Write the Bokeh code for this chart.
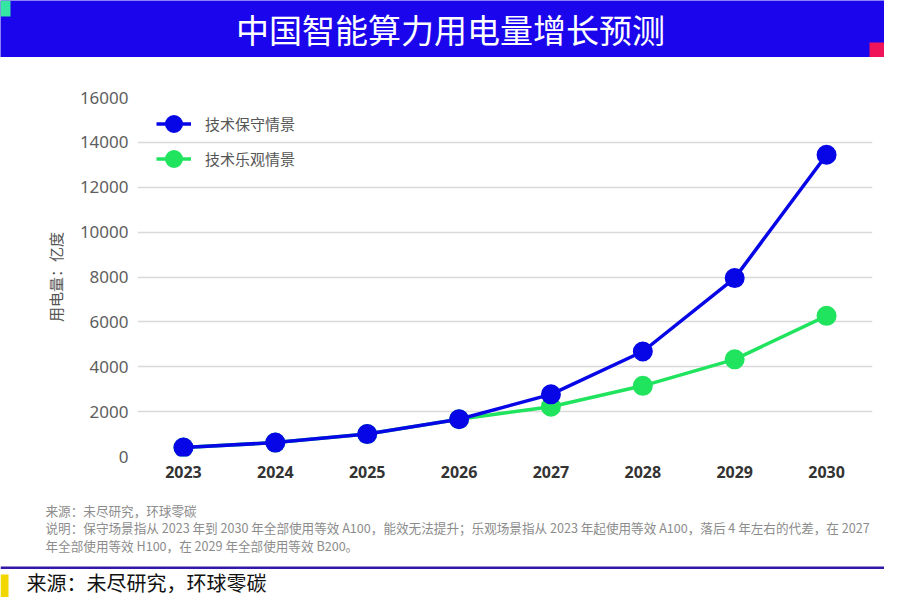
from bokeh.plotting import figure
from bokeh.layouts import column
from bokeh.models import Range1d, FixedTicker, Legend, LegendItem, BoxAnnotation, Label
from bokeh.embed import file_html
from bokeh.resources import INLINE

# ---- data ----
years = [2023, 2024, 2025, 2026, 2027, 2028, 2029, 2030]
conservative = [400, 620, 1000, 1660, 2770, 4680, 7950, 13450]
optimistic = [400, 620, 1000, 1660, 2220, 3150, 4330, 6270]
y_ticks = [0, 2000, 4000, 6000, 8000, 10000, 12000, 14000, 16000]
series_names = ["技术保守情景", "技术乐观情景"]
title_text = "中国智能算力用电量增长预测"
y_label = "用电量：亿度"
note_lines = [
    "来源：未尽研究，环球零碳",
    "说明：保守场景指从 2023 年到 2030 年全部使用等效 A100，能效无法提升；乐观场景指从 2023 年起使用等效 A100，落后 4 年左右的代差，在 2027",
    "年全部使用等效 H100，在 2029 年全部使用等效 B200。",
]
footer_text = "来源：未尽研究，环球零碳"

BLUE = "#0606e6"
GREEN = "#20e35e"
BAND = "#1a05ec"
CJK = "Noto Sans CJK SC"
W = 884


def no_align(f):
    try:
        f.frame_align = False
    except Exception:
        pass


def blank_fig(h):
    f = figure(width=W, height=h, output_backend="svg", toolbar_location=None,
               x_range=Range1d(0, W), y_range=Range1d(h, 0),
               x_axis_type=None, y_axis_type=None, min_border=0, title=None)
    f.xgrid.visible = False
    f.ygrid.visible = False
    f.outline_line_color = None
    no_align(f)
    return f


def rect(f, l, r, t, b, color):
    f.add_layout(BoxAnnotation(left=l, right=r, top=t, bottom=b, fill_color=color,
                               fill_alpha=1, line_alpha=0, level="overlay"))


# ---- header ----
HEAD_H = 57
head = blank_fig(HEAD_H)
head.background_fill_color = BAND
head.border_fill_color = BAND
rect(head, 0, 10, 0, 16, "#35e6a2")
rect(head, W - 15, W, 42, 57, "#f0145a")
head.add_layout(Label(x=450, y=28, text=title_text, text_align="center",
                      text_baseline="middle", text_color="white",
                      text_font=CJK, text_font_size="33px"))

# ---- main chart ----
MAIN_H = 433
p = figure(width=W, height=MAIN_H, output_backend="svg", toolbar_location=None,
           x_range=Range1d(2022.5, 2030.5), y_range=Range1d(0, 16000),
           min_border_left=137, min_border_right=W - 872, min_border_top=40,
           min_border_bottom=34, title=None)
no_align(p)
p.outline_line_color = None
p.background_fill_color = "white"
p.border_fill_color = "white"

p.xgrid.visible = False
p.ygrid.grid_line_color = "#d9d9d9"
p.ygrid.grid_line_width = 1.5

p.yaxis.ticker = FixedTicker(ticks=y_ticks)
p.xaxis.ticker = FixedTicker(ticks=years)
for ax in (p.xaxis[0], p.yaxis[0]):
    ax.axis_line_color = None
    ax.major_tick_line_color = None
    ax.minor_tick_line_color = None
    ax.major_tick_out = 0
    ax.major_tick_in = 0
    ax.minor_tick_out = 0
p.yaxis.major_label_standoff = 9
p.yaxis.major_label_text_font = "Noto Sans"
p.yaxis.major_label_text_font_size = "17px"
p.yaxis.major_label_text_color = "#5e5e5e"
p.yaxis.axis_label = y_label
p.yaxis.axis_label_text_font = CJK
p.yaxis.axis_label_text_font_size = "15px"
p.yaxis.axis_label_text_font_style = "normal"
p.yaxis.axis_label_text_color = "#555555"
p.yaxis.axis_label_standoff = 11

p.xaxis.major_label_standoff = 9
p.xaxis.major_label_text_font = "Noto Sans"
p.xaxis.major_label_text_font_size = "16px"
p.xaxis.major_label_text_font_style = "bold"
p.xaxis.major_label_text_color = "#333333"

g_line = p.line(years, optimistic, line_color=GREEN, line_width=3.5)
g_pts = p.scatter(years, optimistic, size=16, fill_color=GREEN, line_color=GREEN, line_width=4)
b_line = p.line(years, conservative, line_color=BLUE, line_width=3.5)
b_pts = p.scatter(years, conservative, size=16, fill_color=BLUE, line_color=BLUE, line_width=4)

legend = Legend(items=[LegendItem(label=series_names[0], renderers=[b_line, b_pts]),
                       LegendItem(label=series_names[1], renderers=[g_line, g_pts])],
                location=(19, 280), glyph_width=35, glyph_height=35, spacing=0,
                label_standoff=14, label_height=35, padding=0, margin=0,
                border_line_alpha=0, background_fill_alpha=0,
                label_text_font=CJK, label_text_font_size="15px",
                label_text_color="#555555", label_text_baseline="middle")
p.add_layout(legend)

# ---- footer (notes + source) ----
FOOT_H = 597 - HEAD_H - MAIN_H
foot = blank_fig(FOOT_H)
foot.background_fill_color = "white"
foot.border_fill_color = "white"
for t, yy in zip(note_lines, [20, 37, 55]):
    foot.add_layout(Label(x=45, y=yy, text=t, text_align="left", text_baseline="middle",
                          text_color="#8c8c8c", text_font=CJK, text_font_size="12.6px"))
rect(foot, 0, W, 76, 78.5, "#3318a8")
rect(foot, 0, 8, 84, FOOT_H, "#f2d600")
foot.add_layout(Label(x=26, y=92, text=footer_text, text_align="left",
                      text_baseline="middle", text_color="#111111",
                      text_font=CJK, text_font_size="20px"))

layout = column(head, p, foot, spacing=0)
open("out.html", "w").write(file_html(layout, INLINE))
